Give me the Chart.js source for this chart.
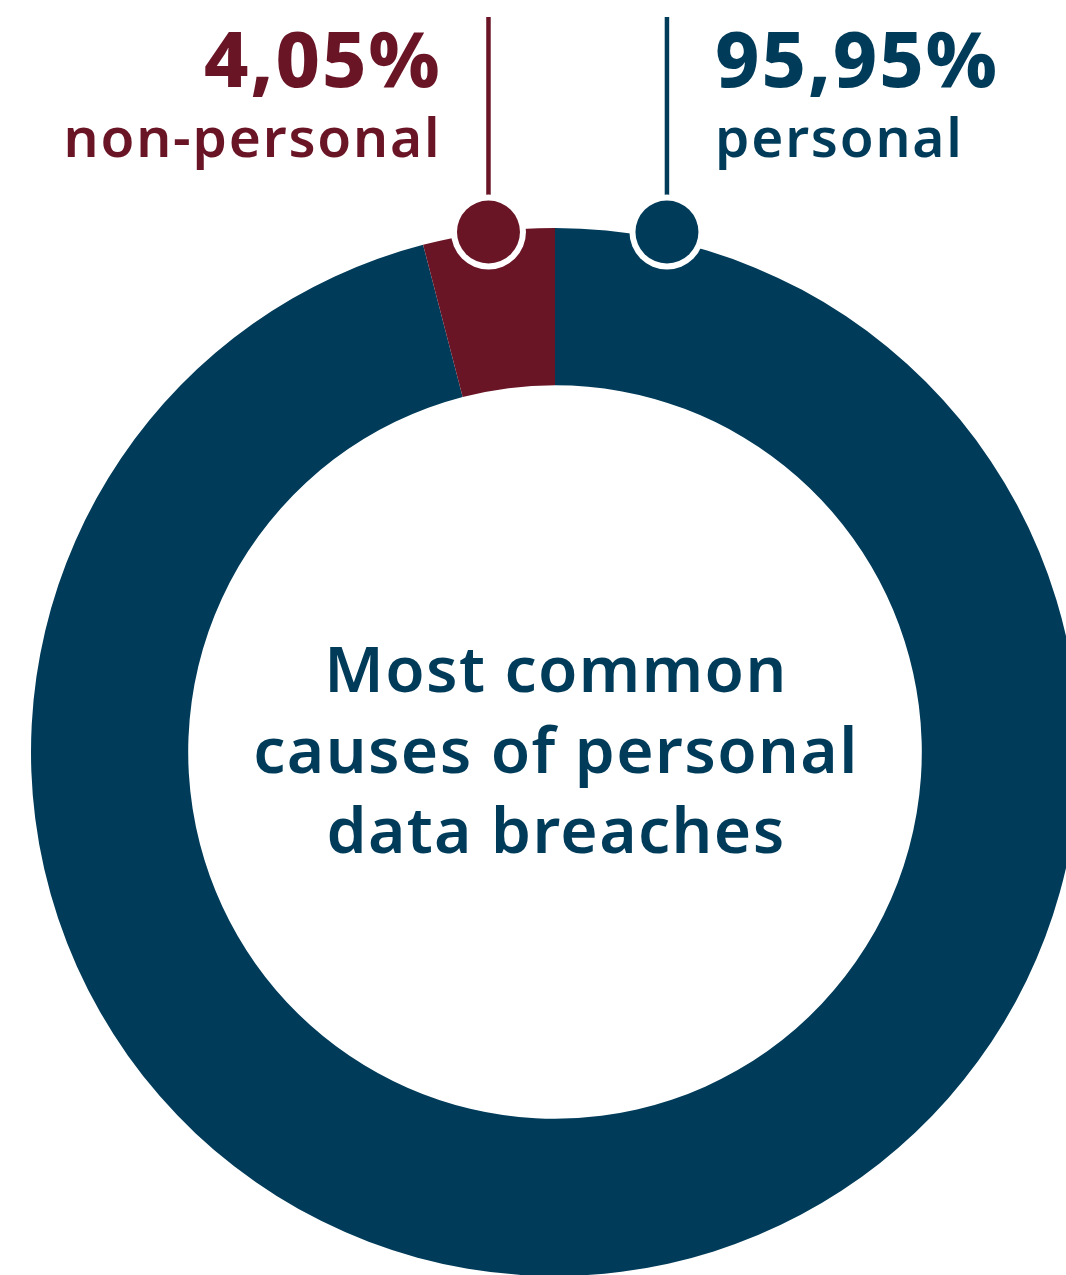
<!DOCTYPE html>
<html>
<head>
<meta charset="utf-8">
<script src="https://cdn.jsdelivr.net/npm/chart.js@4.4.1/dist/chart.umd.min.js"></script>
<style>
  html, body { margin: 0; padding: 0; background: #fff; overflow: hidden; }
  .wrap { position: relative; width: 1066px; height: 1275px; }
</style>
</head>
<body>
<div class="wrap"><canvas id="donut" width="1066" height="1275"></canvas></div>
<script>
'use strict';

var labels = ['personal', 'non-personal'];
var values = [95.95, 4.05];
var colors = ['#003c5a', '#6a1526'];
var centerLines = ['Most common', 'causes of personal', 'data breaches'];
// where each callout sits on the ring, degrees from the top (null = middle of slice)
var markerAngles = [12.15, null];

function pct(v) {
  return v.toFixed(2).replace('.', ',') + '%';
}

var calloutPlugin = {
  id: 'callouts',
  afterDatasetsDraw: function(chart) {
    var ctx = chart.ctx;
    var meta = chart.getDatasetMeta(0);
    meta.data.forEach(function(arc, i) {
      var cx = arc.x, cy = arc.y, R = arc.outerRadius;
      var theta;
      if (markerAngles[i] === null) {
        theta = (arc.startAngle + arc.endAngle) / 2 + Math.PI / 2;
      } else {
        theta = markerAngles[i] * Math.PI / 180;
      }
      var my = cy - R + 4;
      var mx = cx + (R - 4) * Math.tan(theta);

      ctx.save();
      // stem
      ctx.strokeStyle = colors[i];
      ctx.lineWidth = 4.5;
      ctx.beginPath();
      ctx.moveTo(mx, 17);
      ctx.lineTo(mx, 195);
      ctx.stroke();
      // dot with white ring
      ctx.fillStyle = '#fff';
      ctx.beginPath();
      ctx.arc(mx, my, 37.5, 0, Math.PI * 2);
      ctx.fill();
      ctx.fillStyle = colors[i];
      ctx.beginPath();
      ctx.arc(mx, my, 31.5, 0, Math.PI * 2);
      ctx.fill();

      // text
      var leftSide = mx < cx;
      ctx.textAlign = leftSide ? 'right' : 'left';
      ctx.textBaseline = 'alphabetic';
      var tx = leftSide ? mx - 49 : mx + 48;
      ctx.fillStyle = colors[i];
      ctx.font = '800 77px "Noto Sans"';
      ctx.letterSpacing = '2px';
      ctx.fillText(pct(values[i]), leftSide ? tx + 2 : tx, 87);
      ctx.font = '600 55px "Noto Sans"';
      ctx.letterSpacing = '1.8px';
      ctx.fillText(labels[i], leftSide ? tx + 1.8 : tx, 157);
      ctx.restore();
    });

    // title in the hole
    var a = meta.data[0];
    ctx.save();
    ctx.fillStyle = colors[0];
    ctx.textAlign = 'center';
    ctx.textBaseline = 'alphabetic';
    ctx.font = '600 64px "Noto Sans"';
    ctx.letterSpacing = '1.4px';
    var offsets = [-60, 21, 101];
    centerLines.forEach(function(line, k) {
      ctx.fillText(line, a.x + 1, a.y + offsets[k]);
    });
    ctx.restore();
  }
};

var chart = new Chart(document.getElementById('donut'), {
  type: 'doughnut',
  data: {
    labels: labels,
    datasets: [{
      data: values,
      backgroundColor: colors,
      hoverBackgroundColor: colors,
      borderWidth: 0,
      radius: 524,
      clip: false
    }]
  },
  options: {
    responsive: false,
    animation: false,
    cutout: '70%',
    layout: { padding: { left: 44, top: 229, right: 0, bottom: 0 } },
    plugins: {
      legend: { display: false },
      tooltip: { enabled: false }
    }
  },
  plugins: [calloutPlugin]
});
</script>
</body>
</html>
